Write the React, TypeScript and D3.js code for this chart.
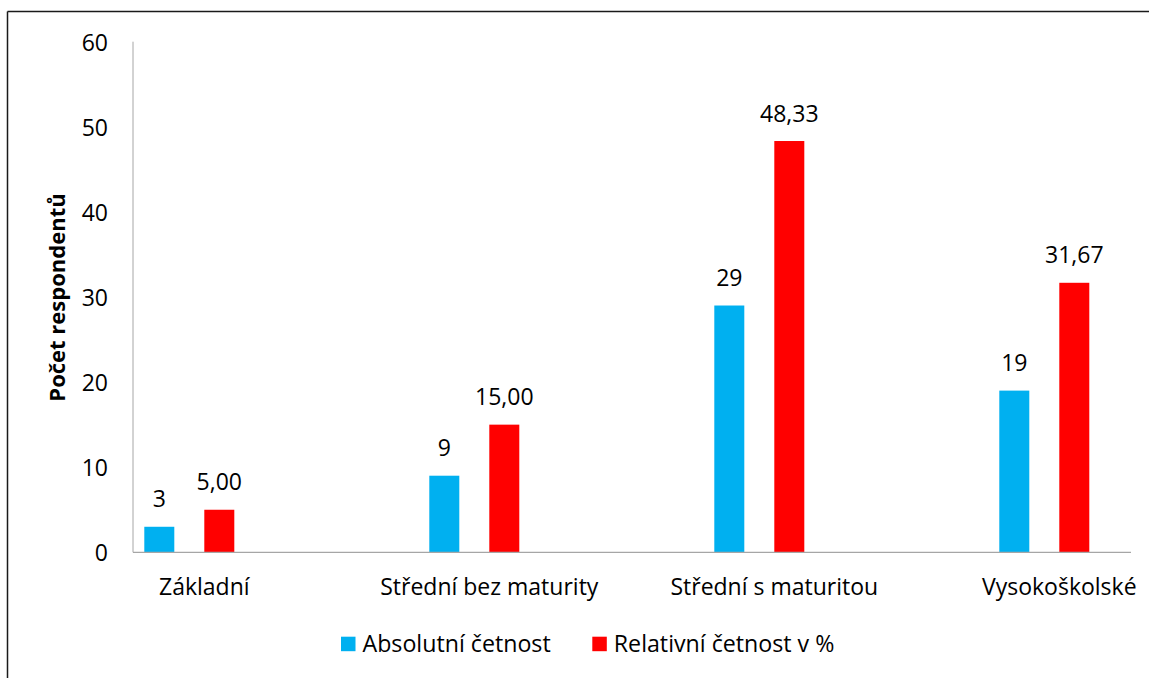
import React from "react";
import * as d3 from "d3";

// Education level of respondents: absolute and relative frequencies
const categories = ["Základní", "Střední bez maturity", "Střední s maturitou", "Vysokoškolské"];
const seriesNames = ["Absolutní četnost", "Relativní četnost v %"];
const absoluteCounts = [3, 9, 29, 19];
const relativePercents = [5.0, 15.0, 48.33, 31.67];
const yTicks = [0, 10, 20, 30, 40, 50, 60];
const yTitle = "Počet respondentů";

const colors = ["#00B0F0", "#FF0000"];

const W = 1149;
const H = 678;
const plotLeft = 133;
const plotRight = 1131;
const plotTop = 41.7;
const plotBottom = 552.3;
const catStep = 285;
const groupOffset = 11.3;
const FONT = "'Open Sans', sans-serif";

const csLocale = d3.formatLocale({ decimal: ",", thousands: " ", grouping: [3], currency: ["", " Kč"] });
const fmtInt = csLocale.format("d");
const fmt2 = csLocale.format(".2f");

export default function App() {
  const y = d3.scaleLinear().domain([0, 60]).range([plotBottom, plotTop]);
  const x0 = d3
    .scaleBand<string>()
    .domain(categories)
    .range([plotLeft, plotLeft + catStep * categories.length]);
  const x1 = d3.scaleBand<string>().domain(seriesNames).range([0, 90]).paddingInner(0.5);

  const seriesValues = [absoluteCounts, relativePercents];
  const formatters = [fmtInt, fmt2];

  return (
    <svg
      width={W}
      height={H}
      style={{ position: "absolute", left: 0, top: 0, background: "#fff" }}
      fontFamily={FONT}
    >
      {/* frame */}
      <line x1={7.5} y1={11.5} x2={W} y2={11.5} stroke="#1a1a1a" strokeWidth={1.5} />
      <line x1={7.5} y1={11.5} x2={7.5} y2={H} stroke="#1a1a1a" strokeWidth={1.5} />

      {/* y axis */}
      <line x1={plotLeft} y1={plotTop} x2={plotLeft} y2={plotBottom} stroke="#a6a6a6" strokeWidth={1} />
      {yTicks.map((t) => (
        <text
          key={t}
          x={108}
          y={y(t)}
          textAnchor="end"
          dominantBaseline="central"
          fontSize={23}
          fill="#000"
        >
          {t}
        </text>
      ))}
      <text
        transform={`translate(65, 297.5) rotate(-90)`}
        textAnchor="middle"
        fontSize={22}
        fontWeight="bold"
        fill="#000"
      >
        {yTitle}
      </text>

      {/* bars and value labels */}
      {categories.map((c, ci) => (
        <g key={c}>
          {seriesNames.map((s, si) => {
            const v = seriesValues[si][ci];
            const bx = (x0(c) as number) + groupOffset + (x1(s) as number);
            const bw = x1.bandwidth();
            return (
              <g key={s}>
                <rect x={bx} y={y(v)} width={bw} height={plotBottom - y(v)} fill={colors[si]} />
                <text
                  x={bx + bw / 2}
                  y={y(v) - 19.5}
                  textAnchor="middle"
                  fontSize={23}
                  fill="#000"
                >
                  {formatters[si](v)}
                </text>
              </g>
            );
          })}
          <text
            x={(x0(c) as number) + groupOffset + (x1(seriesNames[1]) as number)}
            y={595}
            textAnchor="middle"
            fontSize={23}
            fill="#000"
          >
            {c}
          </text>
        </g>
      ))}

      {/* x axis */}
      <line x1={plotLeft} y1={plotBottom} x2={plotRight} y2={plotBottom} stroke="#a6a6a6" strokeWidth={1.3} />

      {/* legend */}
      {seriesNames.map((s, si) => {
        const lx = [341, 592.3][si];
        return (
          <g key={s}>
            <rect x={lx} y={636.7} width={14.5} height={14.5} fill={colors[si]} />
            <text x={lx + 21.5} y={651.5} fontSize={23.2} fill="#000">
              {s}
            </text>
          </g>
        );
      })}
    </svg>
  );
}
